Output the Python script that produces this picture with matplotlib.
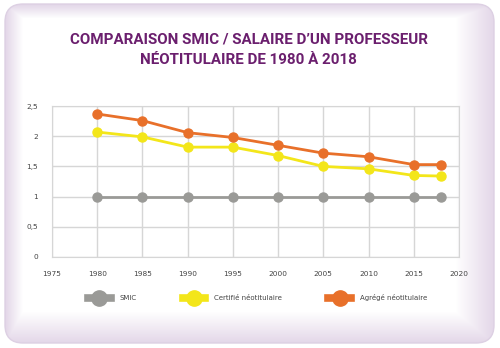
import numpy as np
import matplotlib.pyplot as plt
from matplotlib.patches import FancyBboxPatch

# data
years = [1980, 1985, 1990, 1995, 2000, 2005, 2010, 2015, 2018]
smic = [1, 1, 1, 1, 1, 1, 1, 1, 1]
certifie = [2.07, 1.99, 1.82, 1.82, 1.68, 1.50, 1.46, 1.35, 1.34]
agrege = [2.37, 2.26, 2.06, 1.98, 1.85, 1.72, 1.66, 1.53, 1.53]
labels = ["SMIC", "Certifié néotitulaire", "Agrégé néotitulaire"]
colors = ["#9a9a97", "#f3e61a", "#e8702a"]

fig = plt.figure(figsize=(5, 3.48), dpi=100)

# rounded card background with soft purple edge (stronger on the right/bottom)
bg = fig.add_axes([0, 0, 1, 1])
bg.set_xlim(0, 500)
bg.set_ylim(348, 0)
bg.axis("off")
xx, yy = np.meshgrid(np.arange(500), np.arange(348))
d = np.minimum.reduce([(xx - 5) * 2.0, (494 - xx) * 0.9, (yy - 4) * 2.5, (343 - yy) * 1.1]).astype(float)
t = np.clip(d / 35.0, 0, 1)
edge = np.array([0.89, 0.84, 0.91])
img = edge[None, None, :] * (1 - t[..., None]) + np.ones(3)[None, None, :] * t[..., None]
im = bg.imshow(img, extent=(0, 500, 348, 0), zorder=0)
card = FancyBboxPatch((5, 4), 489, 339, boxstyle="round,pad=0,rounding_size=18",
                      facecolor="none", edgecolor="#ddd0e3", lw=1.0, zorder=1)
bg.add_patch(card)
im.set_clip_path(card)

fig.text(0.497, 0.857, "COMPARAISON SMIC / SALAIRE D’UN PROFESSEUR\nNÉOTITULAIRE DE 1980 À 2018",
         ha="center", va="center", fontsize=10.9, fontweight="bold", color="#6b1f6e",
         family=["Roboto", "DejaVu Sans"], linespacing=1.6)

ax = fig.add_axes([0.104, 0.262, 0.814, 0.433])
ax.set_facecolor("none")
for vals, lab, c in zip([smic, certifie, agrege], labels, colors):
    ax.plot(years, vals, color=c, lw=2, marker="o", ms=6.5, label=lab, zorder=3)

ax.set_xlim(1975, 2020)
ax.set_ylim(0, 2.5)
ax.set_xticks(range(1975, 2021, 5))
ax.set_yticks([0, 0.5, 1, 1.5, 2, 2.5])
ax.set_yticklabels(["0", "0,5", "1", "1,5", "2", "2,5"])
ax.grid(True, color="#d6d6d6", lw=1)
for s in ax.spines.values():
    s.set_color("#d6d6d6")
ax.tick_params(length=0, labelsize=5.3, colors="#444444", pad=10)
ax.tick_params(axis="x", pad=10)

leg = fig.legend(loc="center", bbox_to_anchor=(0.515, 0.145), ncol=3, frameon=False,
                 fontsize=5.0, handlelength=3.3, columnspacing=6.6, handletextpad=1.3)
for h in leg.legend_handles:
    h.set_linewidth(5.5)
    h.set_markersize(11)
for t_ in leg.get_texts():
    t_.set_color("#444444")

fig.savefig("out.png", dpi=100)
